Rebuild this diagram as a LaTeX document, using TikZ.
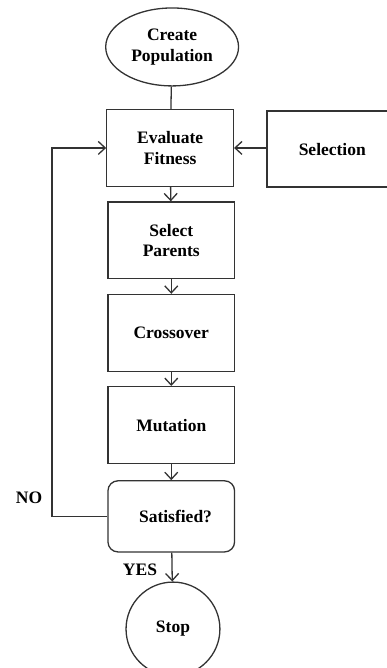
\documentclass[tikz,border=0pt]{standalone}
\usepackage{fontspec}
\setmainfont{Liberation Serif}
\usepackage{tikz}
\usetikzlibrary{arrows.meta, shapes.geometric}

\begin{document}
\begin{tikzpicture}[every text node part/.style={align=center},
  every node/.style={font=\fontsize{17.5}{20.5}\selectfont\bfseries},
  line/.style={draw=black!80, line width=1.3pt},
  box/.style={line, shape=rectangle, minimum width=4.45cm, minimum height=2.7cm, inner sep=0pt},
  >={Straight Barb[length=7pt,width=13pt]}]
\useasboundingbox (0,0) rectangle (13.60,-23.48);
\clip (0,0) rectangle (13.60,-23.48);
\node [line,shape=ellipse,minimum width=4.67cm,minimum height=2.74cm,inner sep=0pt] (create) at (6.05,-1.65) {Create \\ Population};
\node [box] (evaluate) at (5.98,-5.20) {Evaluate \\ Fitness};
\node [box,minimum width=5.6cm,minimum height=2.67cm] (selection) at (12.18,-5.24) {Selection\hspace*{1.0cm}};
\node [box] (parents) at (6.02,-8.45) {Select \\ Parents};
\node [box] (crossover) at (6.02,-11.70) {Crossover};
\node [box] (mutation) at (6.02,-14.94) {Mutation};
\node [box,rounded corners=10pt,minimum height=2.5cm] (satisfied) at (6.02,-18.15) {\hspace*{0.3cm}Satisfied?};
\node [line,shape=circle,minimum size=3.3cm,inner sep=0pt] (stop) at (6.08,-22.11) {Stop};
\node (no) at (1.02,-17.50) {NO};
\node (yes) at (4.92,-20.03) {YES};
\coordinate (loop) at (1.83,-18.15);
\draw [line] (create) -- (evaluate);
\draw [line,->] (selection.west |- evaluate.east) -- (evaluate.east);
\draw [line,->] (evaluate) -- (parents);
\draw [line,->] (parents) -- (crossover);
\draw [line,->] (crossover) -- (mutation);
\draw [line,->] (mutation) -- (satisfied);
\draw [line,->] (satisfied) -- (stop);
\draw [line,->] (satisfied.west) -- (loop) |- (evaluate.west);
\end{tikzpicture}
\end{document}
